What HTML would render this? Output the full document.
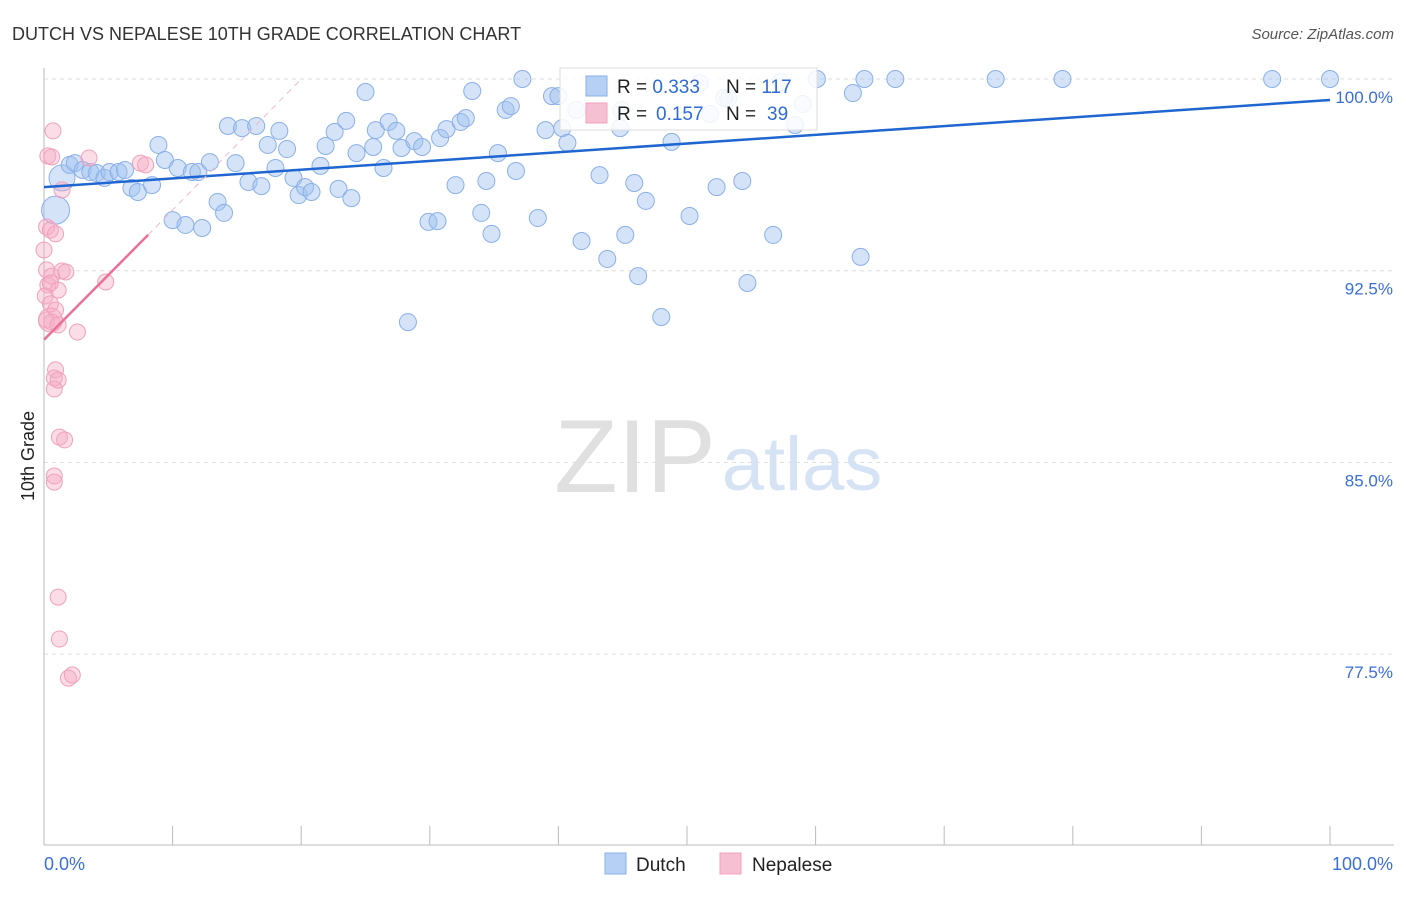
<!DOCTYPE html>
<html><head><meta charset="utf-8">
<style>
body{margin:0;background:#fff;font-family:"Liberation Sans",sans-serif;}
svg text{font-family:"Liberation Sans",sans-serif;}
</style></head>
<body>
<svg id="chart" width="1406" height="892" xmlns="http://www.w3.org/2000/svg">
<text x="12" y="40" font-size="18" fill="#333">DUTCH VS NEPALESE 10TH GRADE CORRELATION CHART</text>
<text x="1394" y="39" font-size="15" fill="#555" text-anchor="end" font-style="italic">Source: ZipAtlas.com</text>
<text x="0" y="0" transform="translate(34,456) rotate(-90)" font-size="18" fill="#222" text-anchor="middle">10th Grade</text>
<g>
<text x="635" y="492" font-size="104" fill="#e0e0e0" text-anchor="middle" font-family="Liberation Serif,serif">ZIP</text>
<text x="802" y="490" font-size="76" fill="#d5e3f5" text-anchor="middle">atlas</text>
</g>
<g id="grid"></g>
<g id="axes"></g>
<g id="pts"></g>
<g id="lines"></g>
<g>
<rect x="560" y="68" width="257" height="62" fill="#fff" fill-opacity="0.85" stroke="#ddd"/>
<rect x="586" y="76" width="21" height="20" fill="#b5cff5" stroke="#8ab0e8"/>
<rect x="586" y="103" width="21" height="20" fill="#f7c0d2" stroke="#f0a0bc"/>
<text x="617" y="93" font-size="19" fill="#222">R = <tspan fill="#2f6bd6">0.333</tspan><tspan x="726">N = </tspan><tspan fill="#2f6bd6">117</tspan></text>
<text x="617" y="120" font-size="19" fill="#222">R = <tspan x="656" fill="#2f6bd6">0.157</tspan><tspan x="726">N = </tspan><tspan x="767" fill="#2f6bd6">39</tspan></text>
</g>
<g>
<rect x="605" y="853" width="21" height="21" fill="#b5cff5" stroke="#8ab0e8"/>
<text x="636" y="871" font-size="19" fill="#222">Dutch</text>
<rect x="720" y="853" width="21" height="21" fill="#f7c0d2" stroke="#f0a0bc"/>
<text x="752" y="871" font-size="19" fill="#222">Nepalese</text>
</g>
</svg>
<script>
const yTicks=[100,92.5,85,77.5];
const yTickLabels=["100.0%","92.5%","85.0%","77.5%"];
const xTicks=[0,10,20,30,40,50,60,70,80,90,100];
const dutchX=[1.4,0.9,2.0,2.4,3.0,3.6,4.1,4.7,5.1,5.8,6.3,6.8,7.3,8.4,8.9,9.4,10.0,10.4,11.0,11.5,12.0,12.3,12.9,13.5,14.0,14.3,14.9,15.4,15.9,16.5,16.9,17.4,18.0,18.3,18.9,19.4,19.8,20.3,20.8,21.5,21.9,22.6,22.9,23.5,23.9,24.3,25.0,25.6,25.8,26.4,26.8,27.4,27.8,28.3,28.8,29.4,29.9,30.6,30.8,31.3,32.0,32.4,32.8,33.3,34.0,34.4,34.8,35.3,35.9,36.3,36.7,37.2,38.4,39.0,39.5,40.0,40.3,40.7,41.4,41.8,43.2,43.8,44.8,45.2,45.9,46.2,46.8,48.0,48.8,50.2,51.0,51.8,52.3,52.9,53.2,54.3,54.7,56.7,57.3,58.4,59.0,60.1,62.9,63.5,63.8,66.2,74.0,79.2,95.5,100.0,44.9];
const dutchY=[96.13,94.87,96.64,96.71,96.44,96.36,96.32,96.13,96.36,96.36,96.44,95.74,95.58,95.85,97.42,96.83,94.48,96.52,94.29,96.36,96.36,94.17,96.75,95.19,94.76,98.16,96.71,98.08,95.97,98.16,95.81,97.42,96.52,97.97,97.26,96.13,95.46,95.77,95.58,96.60,97.38,97.93,95.70,98.36,95.34,97.10,99.49,97.34,98.00,96.52,98.32,97.97,97.30,90.49,97.57,97.34,94.41,94.44,97.69,98.04,95.85,98.32,98.47,99.53,94.76,96.01,93.94,97.10,98.79,98.94,96.40,100.0,94.56,98.00,99.33,99.33,98.08,97.50,98.79,93.66,96.24,92.96,98.08,93.90,95.93,92.29,95.23,90.69,97.54,94.64,99.84,98.63,95.77,99.26,99.22,96.01,92.02,93.90,99.88,98.20,99.02,100.0,99.45,93.04,100.0,100.0,100.0,100.0,100.0,100.0,98.79];
const nepX=[0.7,0.3,0.6,1.4,0.2,0.5,0.9,0.0,0.2,0.6,1.4,1.7,0.3,0.5,1.1,0.1,0.5,0.9,0.2,0.6,1.1,2.6,4.8,3.5,7.5,7.9,0.9,0.8,1.1,0.8,1.2,1.6,0.8,0.8,1.1,1.2,1.9,2.2,0.5];
const nepY=[97.97,96.99,96.95,95.66,94.21,94.09,93.94,93.31,92.53,92.29,92.49,92.45,91.94,92.02,91.74,91.51,91.20,90.96,90.57,90.49,90.38,90.10,92.06,96.91,96.71,96.64,88.62,88.30,88.22,87.87,85.99,85.88,84.47,84.23,79.73,78.09,76.56,76.68,90.57];
const dutchTrend=[[0,95.77],[100,99.18]];
const nepTrend=[[0,89.8],[8.1,93.9]];
const nepTrendExt=[[8.1,93.9],[20,100]];

const X0=44,X1=1330,Ytop=79,YPer=25.56,Ybot=845;
const sx=v=>X0+(X1-X0)*v/100;
const sy=v=>Ytop+(100-v)*YPer;
const NS="http://www.w3.org/2000/svg";
function mk(tag,parent,attrs){const e=document.createElementNS(NS,tag);for(const k in attrs)e.setAttribute(k,attrs[k]);parent.appendChild(e);return e;}
const grid=document.getElementById('grid'),axes=document.getElementById('axes'),pts=document.getElementById('pts'),lines=document.getElementById('lines');
yTicks.forEach((t,i)=>{
  const l=mk('line',grid,{x1:X0,x2:1394,y1:sy(t),y2:sy(t),stroke:'#ddd','stroke-dasharray':'4,4'});
  
  
  const tx=mk('text',axes,{x:1393,y:sy(t)+24,'font-size':17,fill:'#3a6fd8','text-anchor':'end'});
  tx.textContent=yTickLabels[i];
  
  
});
const ya=mk('line',axes,{x1:X0,x2:X0,y1:68,y2:Ybot,stroke:'#bbb'});


const xa=mk('line',axes,{x1:X0,x2:1394,y1:Ybot,y2:Ybot,stroke:'#bbb'});


xTicks.forEach(t=>{
  const l=mk('line',axes,{x1:sx(t),x2:sx(t),y1:826,y2:Ybot,stroke:'#bbb'});
  
  
});
const xl0=mk('text',axes,{x:44,y:870,'font-size':18,fill:'#3a6fd8'});xl0.textContent='0.0%';


const xl1=mk('text',axes,{x:1393,y:870,'font-size':18,fill:'#3a6fd8','text-anchor':'end'});xl1.textContent='100.0%';


dutchX.forEach((v,i)=>{
  const r=(i===0)?13:(i===1?14:8.5);
  const c=mk('circle',pts,{cx:sx(v),cy:sy(dutchY[i]),r:r,fill:'rgba(160,192,240,0.45)',stroke:'#8ab0e8','stroke-width':1});
  
  
});
nepX.forEach((v,i)=>{
  const r=(i===nepX.length-1)?12:8;
  const c=mk('circle',pts,{cx:sx(v),cy:sy(nepY[i]),r:r,fill:'rgba(245,170,195,0.4)',stroke:'#f0a0bc','stroke-width':1});
  
  
});
const bl=mk('line',lines,{x1:sx(dutchTrend[0][0]),y1:sy(dutchTrend[0][1]),x2:sx(dutchTrend[1][0]),y2:sy(dutchTrend[1][1]),stroke:'#1f66d1','stroke-width':2.5});


const pl=mk('line',lines,{x1:sx(nepTrend[0][0]),y1:sy(nepTrend[0][1]),x2:sx(nepTrend[1][0]),y2:sy(nepTrend[1][1]),stroke:'#e8719a','stroke-width':2.5});


const pd=mk('line',lines,{x1:sx(nepTrendExt[0][0]),y1:sy(nepTrendExt[0][1]),x2:sx(nepTrendExt[1][0]),y2:sy(nepTrendExt[1][1]),stroke:'#f0b8cc','stroke-width':1,'stroke-dasharray':'6,5'});


</script>
</body></html>
